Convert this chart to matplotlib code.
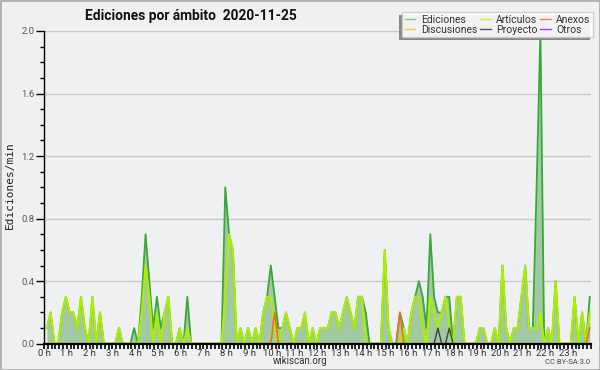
import numpy as np
import matplotlib
matplotlib.use("Agg")
import matplotlib.pyplot as plt
from matplotlib.ticker import MultipleLocator
from matplotlib.patches import Rectangle
from matplotlib.lines import Line2D

# ---- data (edits per minute, 10-minute slots, 6 per hour) ----
title = "Ediciones por ámbito  2020-11-25"
hour_labels = [f"{h} h" for h in range(24)]
y_ticks = [0.0, 0.4, 0.8, 1.2, 1.6, 2.0]

ediciones = [
    0.1, 0.2, 0, 0, 0.2, 0.3,   0.2, 0.2, 0.1, 0.3, 0.1, 0,
    0.3, 0, 0.2, 0, 0, 0,       0, 0.1, 0, 0, 0, 0.1,
    0, 0.3, 0.7, 0.4, 0.1, 0.3, 0.1, 0.2, 0.3, 0, 0, 0.1,
    0, 0.3, 0, 0, 0, 0,         0, 0, 0, 0, 0, 1.0,
    0.7, 0.6, 0, 0.1, 0, 0.1,   0, 0.1, 0, 0.2, 0.3, 0.5,
    0.3, 0.1, 0.1, 0.2, 0.1, 0, 0.1, 0.1, 0.2, 0, 0.1, 0,
    0.1, 0.1, 0.1, 0.2, 0.2, 0.1, 0.2, 0.3, 0.2, 0.1, 0.3, 0.3,
    0.2, 0, 0, 0, 0, 0.6,       0.1, 0, 0, 0.2, 0.1, 0,
    0.2, 0.3, 0.4, 0.3, 0.1, 0.7, 0.3, 0.2, 0.2, 0.3, 0.3, 0,
    0.3, 0.3, 0, 0, 0, 0,       0.1, 0.1, 0, 0, 0.1, 0,
    0.5, 0.1, 0, 0.1, 0.1, 0.3, 0.5, 0.1, 0.1, 1.0, 2.0, 0,
    0.1, 0, 0.4, 0, 0, 0,       0, 0.3, 0, 0.2, 0, 0.3,
]
articulos = [
    0.1, 0.2, 0, 0, 0.2, 0.3,   0.2, 0.2, 0.1, 0.3, 0.1, 0,
    0.3, 0, 0.2, 0, 0, 0,       0, 0.1, 0, 0, 0, 0,
    0, 0.2, 0.5, 0.3, 0, 0.2,   0, 0.2, 0.3, 0, 0, 0.1,
    0, 0.1, 0, 0, 0, 0,         0, 0, 0, 0, 0, 0.3,
    0.7, 0.6, 0, 0.1, 0, 0.1,   0, 0.1, 0, 0.2, 0.3, 0.3,
    0.1, 0, 0.1, 0.2, 0.1, 0,   0.1, 0.1, 0.2, 0, 0.1, 0,
    0.1, 0.1, 0.1, 0.2, 0.2, 0.1, 0.2, 0.3, 0.2, 0.1, 0.3, 0.3,
    0, 0, 0, 0, 0, 0.6,         0.1, 0, 0, 0, 0.1, 0,
    0.2, 0.3, 0.3, 0.1, 0, 0.3, 0.2, 0.1, 0.2, 0.3, 0.1, 0,
    0.3, 0.3, 0, 0, 0, 0,       0.1, 0.1, 0, 0, 0.1, 0,
    0.5, 0.1, 0, 0.1, 0.1, 0.3, 0.5, 0.1, 0.1, 0.1, 0.2, 0,
    0.1, 0, 0.4, 0, 0, 0,       0, 0.3, 0, 0.2, 0, 0.2,
]
anexos_slots = [60, 93, 143]
anexos_vals = [0.2, 0.2, 0.1]
proyecto_slots = [103, 106]
proyecto_vals = [0.1, 0.1]

series_names = ["Ediciones", "Discusiones", "Artículos", "Proyecto", "Anexos", "Otros"]
legend_colors = ["#7ccc7c", "#f5cf3a", "#ccee33", "#555555", "#f08050", "#9b40f0"]

# ---- build ----
n = len(ediciones)
t = (np.arange(n) + 0.75) / 6.0
ed = np.array(ediciones)
ar = np.array(articulos)
an = np.zeros(n); an[anexos_slots] = anexos_vals
pr = np.zeros(n); pr[proyecto_slots] = proyecto_vals

FONT = ["Roboto", "DejaVu Sans"]
bg = "#eff0f2"
fig = plt.figure(figsize=(6, 3.7), dpi=100, facecolor=bg)
ax = fig.add_axes([44 / 600, 1 - 343.7 / 370, (590.7 - 44) / 600, (343.7 - 31) / 370])
ax.set_facecolor(bg)

ax.fill_between(t, 0, ed, color="#a3c9a3", lw=0, zorder=2)
ax.plot(t, ed, color="#38a838", lw=1.3, zorder=3)
ax.plot(t, ar, color="#aeee00", lw=1.5, zorder=4)
ax.plot(t, an, color="#f07020", lw=1.2, zorder=5)
ax.plot(t, pr, color="#404040", lw=1.0, zorder=5)

ax.set_xlim(0, 24)
ax.set_ylim(0, 2.0)
ax.set_xticks(range(24))
ax.set_xticklabels(hour_labels, family=FONT)
ax.xaxis.set_minor_locator(MultipleLocator(1 / 6))
ax.set_yticks(y_ticks)
ax.set_yticklabels([f"{v:.1f}" for v in y_ticks], family=FONT)
ax.yaxis.set_minor_locator(MultipleLocator(0.1))

ax.tick_params(axis="x", which="both", direction="out", length=3.5, width=1.2,
               color="black", labelsize=6.8, labelcolor="#333333", pad=0)
ax.tick_params(axis="y", which="major", direction="out", length=6, width=1,
               labelsize=6.8, labelcolor="#555555", pad=1)
ax.tick_params(axis="y", which="minor", direction="out", length=3, width=1)
ax.yaxis.grid(True, color="#c8c8c8", lw=1)
ax.set_axisbelow(True)
for s in ["top", "right"]:
    ax.spines[s].set_visible(False)
ax.spines["left"].set_linewidth(1)
ax.spines["bottom"].set_linewidth(1.6)
ax.spines["left"].set_zorder(6)
ax.spines["bottom"].set_zorder(6)

fig.text(85 / 600, 1 - 16 / 370, title, fontsize=9.9, fontweight="bold", family=FONT,
         va="center", ha="left", color="#111111")
fig.text(10 / 600, 1 - 185 / 370, "Ediciones/min", rotation=90,
         family="DejaVu Sans Mono", fontsize=8, va="center", ha="center", color="#222222")
fig.text(0.5, 1 - 361.5 / 370, "wikiscan.org", ha="center", va="center", family=FONT,
         fontsize=7, color="#333333")
fig.text(590 / 600, 1 - 362 / 370, "CC BY-SA 3.0", ha="right", va="center", family=FONT,
         fontsize=5.5, color="#444444")

handles = [Line2D([], [], color=c, lw=1) for c in legend_colors]
leg = fig.legend(handles, series_names, ncol=3, loc="upper right",
                 bbox_to_anchor=(593 / 600, 1 - 12 / 370), bbox_transform=fig.transFigure,
                 prop={"family": FONT, "size": 7.5}, frameon=True, fancybox=False,
                 edgecolor="#cccccc", facecolor="white", framealpha=0.9,
                 handlelength=1.0, handletextpad=0.5, columnspacing=0.3,
                 labelspacing=0.0, borderpad=0.25, borderaxespad=0)
for txt in leg.get_texts():
    txt.set_color("#333333")
leg.set_zorder(10)

fig.canvas.draw()
bb = leg.get_window_extent()
inv = fig.transFigure.inverted()
(x0, y0), (x1, y1) = inv.transform([[bb.x0 - 3, bb.y0 - 3], [bb.x1 - 3, bb.y1 - 3]])
fig.patches.append(Rectangle((x0, y0), x1 - x0, y1 - y0, transform=fig.transFigure,
                             facecolor="#888888", edgecolor="none", zorder=9))
fig.patches.append(Rectangle((0, 0), 1, 1, transform=fig.transFigure, fill=False,
                             edgecolor="#b0b0b0", lw=2, zorder=20))

fig.savefig("out.png", dpi=100, facecolor=bg)
